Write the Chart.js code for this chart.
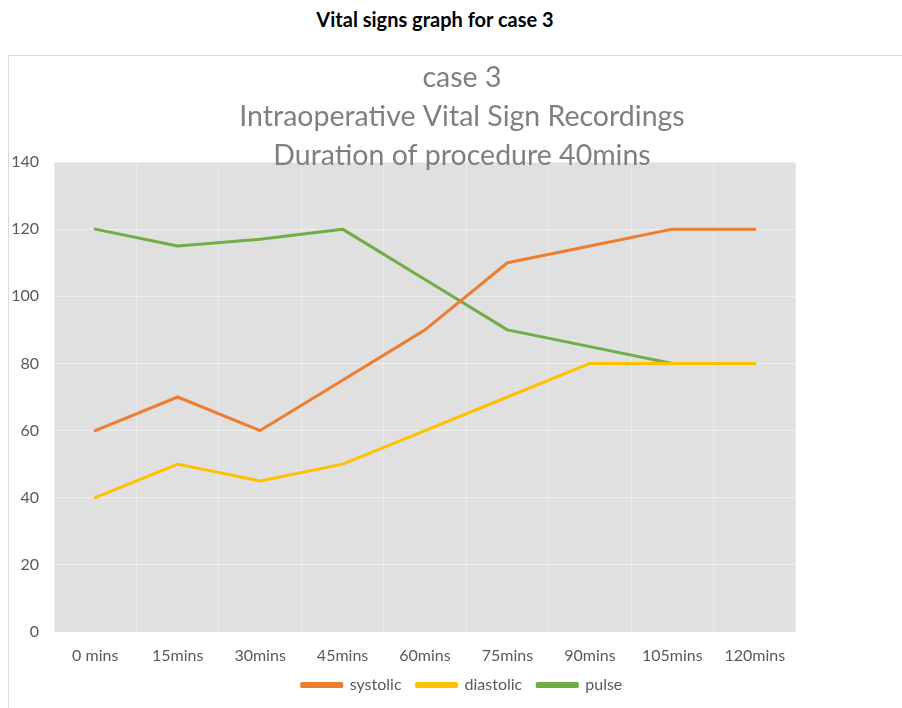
<!DOCTYPE html>
<html>
<head>
<meta charset="utf-8">
<script src="https://cdn.jsdelivr.net/npm/chart.js@4.4.1/dist/chart.umd.min.js"></script>
<style>
  html, body { margin: 0; padding: 0; background: #fff; overflow: hidden; width: 902px; height: 708px; }
  #heading {
    position: absolute; left: 235px; width: 400px; top: 7px;
    text-align: center; font: bold 20px Lato, sans-serif; color: #000;
  }
  #box {
    position: absolute; left: 8px; top: 55px; width: 906px; height: 660px;
    border-left: 1px solid #d9d9d9; border-top: 1px solid #d9d9d9;
  }
  #wrap { position: absolute; left: 0; top: 0; width: 906px; height: 652px; }
</style>
</head>
<body>
<div id="heading">Vital signs graph for case 3</div>
<div id="box">
  <div id="wrap"><canvas id="grafico"></canvas></div>
</div>
<script>
// Dados do gráfico
const tempos = ['0 mins', '15mins', '30mins', '45mins', '60mins', '75mins', '90mins', '105mins', '120mins'];
const sistolica = [60, 70, 60, 75, 90, 110, 115, 120, 120];
const diastolica = [40, 50, 45, 50, 60, 70, 80, 80, 80];
const pulso = [120, 115, 117, 120, 105, 90, 85, 80, 80];
const titulo = ['case 3', 'Intraoperative Vital Sign Recordings', 'Duration of procedure 40mins'];

const cinzaTexto = '#595959';
const fonte = 'Lato, sans-serif';

// Fundo cinza da área do gráfico
const fundoArea = {
    id: 'fundoArea',
    beforeDraw(chart) {
        const { ctx, chartArea: a } = chart;
        ctx.save();
        ctx.fillStyle = '#e0e0e0';
        ctx.fillRect(a.left, a.top, a.right - a.left, a.bottom - a.top);
        ctx.restore();
    }
};

const ctx = document.getElementById('grafico').getContext('2d');
new Chart(ctx, {
    type: 'line',
    data: {
        labels: tempos,
        datasets: [
            { label: 'systolic', data: sistolica, borderColor: '#ED7D31', backgroundColor: '#ED7D31' },
            { label: 'diastolic', data: diastolica, borderColor: '#FFC000', backgroundColor: '#FFC000' },
            { label: 'pulse', data: pulso, borderColor: '#70AD47', backgroundColor: '#70AD47' }
        ]
    },
    options: {
        responsive: true,
        maintainAspectRatio: false,
        animation: false,
        elements: {
            line: { borderWidth: 3, tension: 0, borderCapStyle: 'round', borderJoinStyle: 'round' },
            point: { radius: 0, hoverRadius: 0 }
        },
        layout: { padding: { left: 0, right: 0, top: 0, bottom: 5 } },
        plugins: {
            title: {
                display: true,
                text: titulo,
                color: '#7f7f7f',
                font: { family: fonte, size: 28.5, weight: 'normal', lineHeight: 39 / 28.5 },
                padding: { top: 2.5, bottom: -13.5 }
            },
            legend: {
                position: 'bottom',
                labels: {
                    color: cinzaTexto,
                    font: { family: fonte, size: 16 },
                    boxWidth: 40,
                    boxHeight: 3,
                    padding: 15
                }
            },
            tooltip: { enabled: false }
        },
        scales: {
            x: {
                offset: true,
                grid: { color: 'rgba(255,255,255,0.3)', drawTicks: false, offset: true },
                border: { display: false },
                ticks: { color: cinzaTexto, font: { family: fonte, size: 16 }, padding: 14, maxRotation: 0 },
                afterFit: s => { s.height = 30; }
            },
            y: {
                min: 0,
                max: 140,
                ticks: { stepSize: 20, color: cinzaTexto, font: { family: fonte, size: 16 }, padding: 15 },
                grid: { color: 'rgba(255,255,255,0.45)', drawTicks: false },
                border: { display: false },
                afterFit: s => { s.width = 45; }
            },
            lado: {
                position: 'right',
                grid: { display: false, drawTicks: false },
                border: { display: false },
                ticks: { display: false },
                afterFit: s => { s.width = 119; }
            }
        }
    },
    plugins: [fundoArea]
});
</script>
</body>
</html>
